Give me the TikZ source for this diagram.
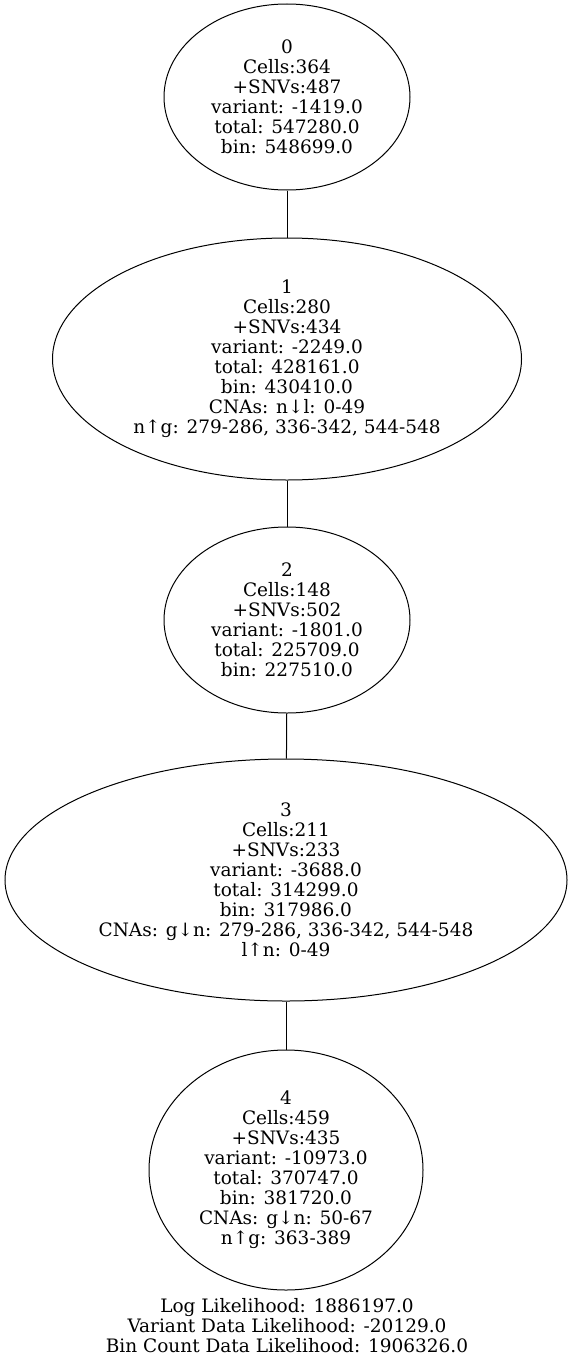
\documentclass[tikz,border=0pt]{standalone}
\usepackage{fontspec}
\setmainfont{DejaVu Serif}
\usetikzlibrary{shapes.geometric}

\begin{document}
\begin{tikzpicture}[x=1pt, y=-1pt,
    clone/.style={draw, ellipse, inner sep=0pt, align=center, line width=1pt,
        font=\fontsize{18.5}{20}\selectfont},
    edge/.style={draw, line width=1pt}]
    \useasboundingbox (0,0) rectangle (573,1362);

    % Clones
    \node[clone, minimum width=246, minimum height=186] (n0) at (287,97)
        {0\\Cells:364\\+SNVs:487\\variant: -1419.0\\total: 547280.0\\bin: 548699.0};
    \node[clone, minimum width=469, minimum height=242] (n1) at (287,359)
        {1\\Cells:280\\+SNVs:434\\variant: -2249.0\\total: 428161.0\\bin: 430410.0\\CNAs: n↓l: 0-49\\n↑g: 279-286, 336-342, 544-548};
    \node[clone, minimum width=246, minimum height=186] (n2) at (287,620)
        {2\\Cells:148\\+SNVs:502\\variant: -1801.0\\total: 225709.0\\bin: 227510.0};
    \node[clone, minimum width=562, minimum height=242] (n3) at (286,880)
        {3\\Cells:211\\+SNVs:233\\variant: -3688.0\\total: 314299.0\\bin: 317986.0\\CNAs: g↓n: 279-286, 336-342, 544-548\\l↑n: 0-49};
    \node[clone, minimum width=274, minimum height=240] (n4) at (286,1170)
        {4\\Cells:459\\+SNVs:435\\variant: -10973.0\\total: 370747.0\\bin: 381720.0\\CNAs: g↓n: 50-67\\n↑g: 363-389};

    % Tree edges
    \draw[edge] (n0) -- (n1);
    \draw[edge] (n1) -- (n2);
    \draw[edge] (n2) -- (n3);
    \draw[edge] (n3) -- (n4);

    % Likelihoods
    \node[align=center, font=\fontsize{18.5}{20}\selectfont] (ll) at (287,1326)
        {Log Likelihood: 1886197.0\\Variant Data Likelihood: -20129.0\\Bin Count Data Likelihood: 1906326.0};
\end{tikzpicture}
\end{document}
